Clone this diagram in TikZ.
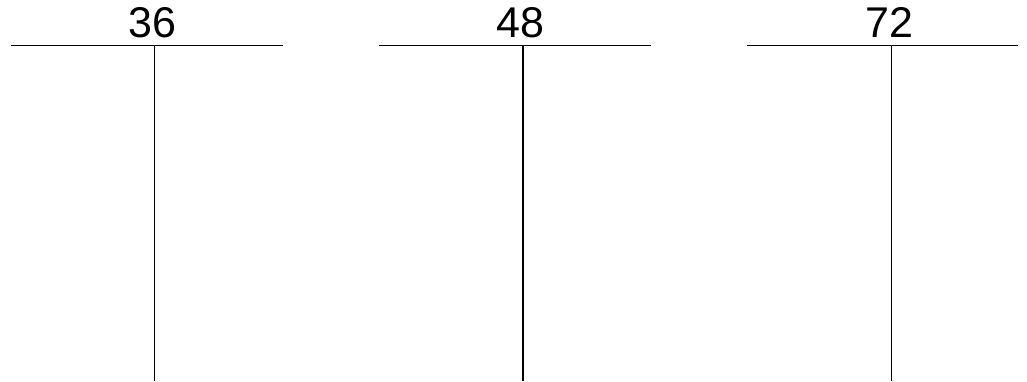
\documentclass[tikz,border=0pt]{standalone}
\usepackage{fontspec}
\setmainfont{Liberation Sans}
\begin{document}
\begin{tikzpicture}[x=1pt,y=1pt,
  tline/.style={line width=1.9pt,black},
  num/.style={anchor=base,inner sep=0pt,font=\fontsize{43}{43}\selectfont}]
\useasboundingbox (0,0) rectangle (1027,381);
% T 1
\coordinate (l1) at (11,335.5);
\coordinate (r1) at (283,335.5);
\coordinate (t1) at (154.5,335.5);
\coordinate (b1) at (154.5,0);
\draw[tline] (l1) -- (r1);
\draw[tline] (t1) -- (b1);
\node[num] (n1) at (152.5,343.3) {36};
% T 2
\coordinate (l2) at (379,335.5);
\coordinate (r2) at (651,335.5);
\coordinate (t2) at (523,335.5);
\coordinate (b2) at (523,0);
\draw[tline] (l2) -- (r2);
\draw[tline] (t2) -- (b2);
\node[num] (n2) at (520,343.3) {48};
% T 3
\coordinate (l3) at (747,335.5);
\coordinate (r3) at (1018,335.5);
\coordinate (t3) at (891.5,335.5);
\coordinate (b3) at (891.5,0);
\draw[tline] (l3) -- (r3);
\draw[tline] (t3) -- (b3);
\node[num] (n3) at (889,343.3) {72};
\end{tikzpicture}
\end{document}
